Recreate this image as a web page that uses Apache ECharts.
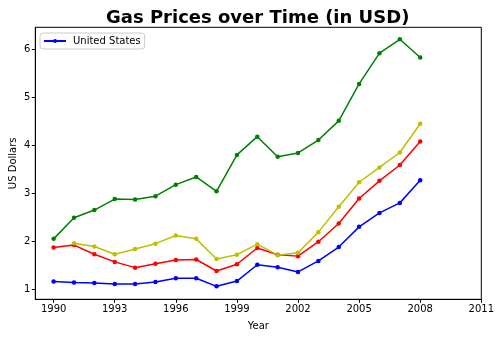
<!DOCTYPE html>
<html>
<head>
<meta charset="utf-8">
<script src="https://cdn.jsdelivr.net/npm/echarts@6/dist/echarts.min.js"></script>
<style>
  html, body { margin: 0; padding: 0; background: #fff; }
  #chart { width: 500px; height: 337px; }
</style>
</head>
<body>
<div id="chart"></div>
<script>
// Gas prices per gallon, in USD
const years = [1990, 1991, 1992, 1993, 1994, 1995, 1996, 1997, 1998, 1999,
               2000, 2001, 2002, 2003, 2004, 2005, 2006, 2007, 2008];
const usa = [1.16, 1.14, 1.13, 1.11, 1.11, 1.15, 1.23, 1.23, 1.06, 1.17,
             1.51, 1.46, 1.36, 1.59, 1.88, 2.30, 2.59, 2.80, 3.27];
const canada = [1.87, 1.92, 1.73, 1.57, 1.45, 1.53, 1.61, 1.62, 1.38, 1.52,
                1.86, 1.72, 1.69, 1.99, 2.37, 2.89, 3.26, 3.59, 4.08];
const southKorea = [2.05, 2.49, 2.65, 2.88, 2.87, 2.94, 3.18, 3.34, 3.04, 3.80,
                    4.18, 3.76, 3.84, 4.11, 4.51, 5.28, 5.92, 6.21, 5.83];
const australia = [null, 1.96, 1.89, 1.73, 1.84, 1.95, 2.12, 2.05, 1.63, 1.72,
                   1.94, 1.71, 1.76, 2.19, 2.72, 3.23, 3.54, 3.85, 4.45];
const xTicks = [1990, 1993, 1996, 1999, 2002, 2005, 2008, 2011];
const yTicks = [1, 2, 3, 4, 5, 6];

const font = 'DejaVu Sans';

function pairs(values) {
  const out = [];
  years.forEach((y, i) => { if (values[i] !== null) out.push([y, values[i]]); });
  return out;
}

function lineSeries(name, color, values) {
  return {
    name: name,
    type: 'line',
    data: pairs(values),
    symbol: 'circle',
    symbolSize: 4.5,
    showSymbol: true,
    lineStyle: { color: color, width: 1.5 },
    itemStyle: { color: color },
    emphasis: { disabled: true },
    animation: false
  };
}

const chart = echarts.init(document.getElementById('chart'), null, { renderer: 'canvas' });
chart.setOption({
  animation: false,
  title: {
    text: 'Gas Prices over Time (in USD)',
    left: 106,
    top: 9,
    padding: 0,
    textStyle: { fontFamily: font, fontSize: 18, fontWeight: 'bold', color: '#000' }
  },
  legend: {
    data: ['United States'],
    left: 40,
    top: 33,
    orient: 'vertical',
    itemWidth: 22,
    itemHeight: 5,
    itemGap: 4,
    padding: [3, 4, 3, 3],
    borderColor: '#cccccc',
    borderWidth: 1,
    borderRadius: 3,
    backgroundColor: '#fff',
    textStyle: { fontFamily: font, fontSize: 10, color: '#000', padding: [0, 0, 0, 2] }
  },
  grid: {
    left: 35.3,
    right: 18.7,
    top: 27.3,
    bottom: 37.7,
    show: true,
    borderColor: '#000',
    borderWidth: 1,
    containLabel: false,
    outerBoundsMode: 'none'
  },
  xAxis: {
    type: 'value',
    min: 1989.1,
    max: 2011,
    name: 'Year',
    nameLocation: 'middle',
    nameGap: 22,
    nameMoveOverlap: false,
    nameTextStyle: { fontFamily: font, fontSize: 10, color: '#000' },
    axisLine: { show: true, lineStyle: { color: '#000', width: 1 } },
    axisTick: { show: true, length: 3.5, customValues: xTicks, lineStyle: { color: '#000' } },
    axisLabel: {
      customValues: xTicks,
      formatter: v => String(v),
      fontFamily: font, fontSize: 10, color: '#000', margin: 5
    },
    splitLine: { show: false }
  },
  yAxis: {
    type: 'value',
    min: 0.79,
    max: 6.46,
    name: 'US Dollars',
    nameLocation: 'middle',
    nameGap: 22,
    nameMoveOverlap: false,
    nameRotate: 90,
    nameTextStyle: { fontFamily: font, fontSize: 10, color: '#000', verticalAlign: 'middle' },
    axisLine: { show: true, lineStyle: { color: '#000', width: 1 } },
    axisTick: { show: true, length: 3.5, customValues: yTicks, lineStyle: { color: '#000' } },
    axisLabel: { customValues: yTicks, fontFamily: font, fontSize: 10, color: '#000', margin: 5 },
    splitLine: { show: false }
  },
  series: [
    lineSeries('United States', '#0000ff', usa),
    lineSeries('Canada', '#ff0000', canada),
    lineSeries('South Korea', '#008000', southKorea),
    lineSeries('Australia', '#bfbf00', australia)
  ]
});
</script>
</body>
</html>
